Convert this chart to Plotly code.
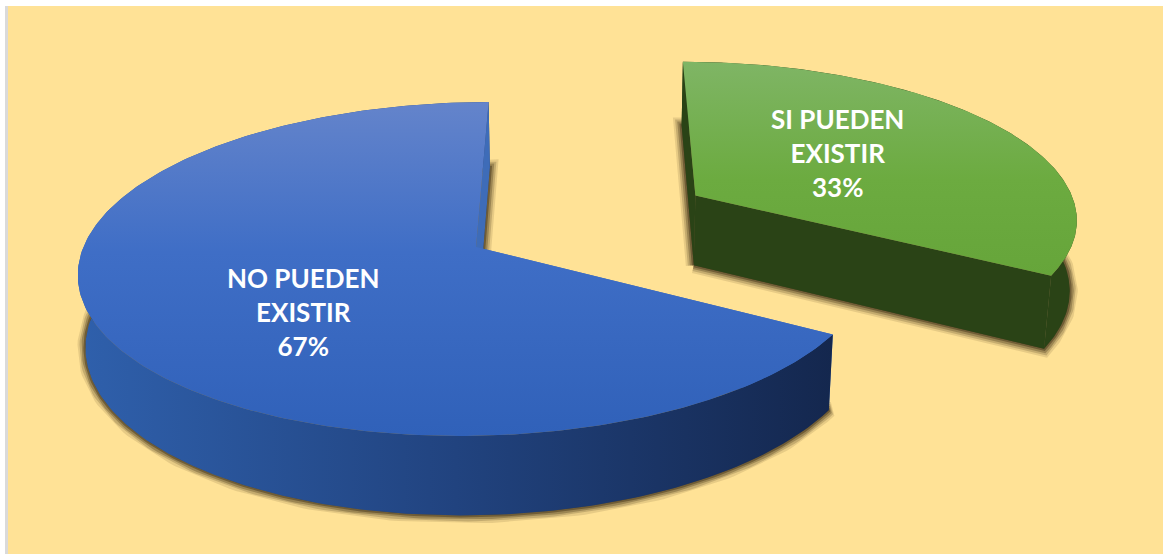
"""Grafico de pastel 3D separado, dibujado con trazos rellenos de Plotly."""

import numpy as np
import plotly.graph_objects as go

# Datos
CATEGORIES = ["SI PUEDEN<br>EXISTIR", "NO PUEDEN<br>EXISTIR"]
VALUES = [33.3, 66.7]

# colores de abajo hacia arriba
TOP_GRADIENTS = [
    [[0, "#66A53A"], [0.45, "#6CAB40"], [1, "#7FB565"]],
    [[0, "#3061B9"], [0.55, "#3F6EC6"], [1, "#6484CB"]],
]
WALL_GRADIENTS = [
    [[0, "#2A4316"], [1, "#2A4316"]],
    [[0, "#2F60AC"], [0.5, "#21437F"], [1, "#14274E"]],
]
CUT_COLORS = ["#2A4316", "#3E6CB8"]

# Camara: punto principal, escala y perspectiva
X0, Y0 = 584, 247
SX, SY = 392.6, 164
DEPTH = 73
K_Y, K_Z = 0.132, 0.015

# Separacion de cada porcion en coordenadas del plano
OFFSETS = [(0.296, 0.3275), (-0.275, 0.0)]
LABEL_XY = [(837, 153), (303, 312)]

WIDTH, HEIGHT = 1163, 554
PAD_L, PAD_T = 8, 6


def project(x, y, z=0.0):
    w = 1 + K_Y * y + K_Z * z
    return X0 + SX * x / w, Y0 - (SY * y - DEPTH * z) / w


def ribbon(ax, ay):
    """Cara vertical entre la cara superior y la inferior."""
    x1, y1 = project(ax, ay, 0)
    x2, y2 = project(ax, ay, 1)
    xs = np.concatenate([x1, x2[::-1]])
    ys = np.concatenate([y1, y2[::-1]])
    return xs, ys


def add_cut(fig, color, dx, dy, edge_x, edge_y):
    xs, ys = ribbon(np.array([dx, edge_x]), np.array([dy, edge_y]))
    fig.add_trace(go.Scatter(
        x=xs, y=ys, mode="lines", fill="toself", fillcolor=color,
        line=dict(width=0), hoverinfo="skip", showlegend=False,
    ))


fig = go.Figure()

# primero todas las sombras, despues las porciones
start = 90.0
slices = []
for i, value in enumerate(VALUES):
    end = start - 360 * value / sum(VALUES)
    t = np.radians(np.linspace(start, end, 240))
    dx, dy = OFFSETS[i]
    slices.append((dx + np.cos(t), dy + np.sin(t), dx, dy))
    start = end

for arc_x, arc_y, dx, dy in slices:
    xs = np.concatenate([[dx], arc_x, [dx]])
    ys = np.concatenate([[dy], arc_y, [dy]])
    sx, sy = project(xs, ys, 1)
    for width, alpha in [(16, 0.12), (12, 0.2), (8, 0.3), (4, 0.45)]:
        fig.add_trace(go.Scatter(
            x=sx, y=sy, mode="lines", fill="toself",
            fillcolor="rgba(60,45,20,0.2)",
            line=dict(color=f"rgba(60,45,20,{alpha})", width=width),
            hoverinfo="skip", showlegend=False,
        ))

for i, (arc_x, arc_y, dx, dy) in enumerate(slices):
    # extremo delantero y trasero del arco
    back, front = (0, -1) if arc_y[0] > arc_y[-1] else (-1, 0)

    # la cara de corte delantera queda debajo de la pared
    add_cut(fig, CUT_COLORS[i], dx, dy, arc_x[front], arc_y[front])

    # pared exterior
    xs, ys = ribbon(arc_x, arc_y)
    fig.add_trace(go.Scatter(
        x=xs, y=ys, mode="lines", fill="toself",
        fillgradient=dict(type="horizontal", colorscale=WALL_GRADIENTS[i]),
        line=dict(width=0), hoverinfo="skip", showlegend=False,
    ))

    # cara de corte trasera
    add_cut(fig, CUT_COLORS[i], dx, dy, arc_x[back], arc_y[back])

    # cara superior
    xs = np.concatenate([[dx], arc_x, [dx]])
    ys = np.concatenate([[dy], arc_y, [dy]])
    tx, ty = project(xs, ys)
    fig.add_trace(go.Scatter(
        x=tx, y=ty, mode="lines", fill="toself",
        fillgradient=dict(type="vertical", colorscale=TOP_GRADIENTS[i]),
        line=dict(width=0), hoverinfo="skip", showlegend=False,
    ))

    pct = round(100 * VALUES[i] / sum(VALUES))
    fig.add_annotation(
        x=LABEL_XY[i][0], y=LABEL_XY[i][1],
        text=f"{CATEGORIES[i]}<br>{pct}%",
        showarrow=False,
        font=dict(family="Lato", size=26, color="#FFFFFF", weight="bold"),
    )

fig.add_shape(
    type="rect", xref="paper", yref="paper", layer="below",
    x0=-3 / (WIDTH - PAD_L), x1=0, y0=0, y1=1,
    fillcolor="#DADADA", line=dict(width=0),
)

fig.update_layout(
    width=WIDTH,
    height=HEIGHT,
    margin=dict(l=PAD_L, r=0, t=PAD_T, b=0),
    paper_bgcolor="#FFFFFF",
    plot_bgcolor="#FFE296",
    showlegend=False,
)
fig.update_xaxes(range=[PAD_L, WIDTH], visible=False)
fig.update_yaxes(range=[HEIGHT, PAD_T], visible=False)

fig.write_html(
    "out.html",
    config={"displayModeBar": False},
    post_script="document.body.style.margin='0';",
)
